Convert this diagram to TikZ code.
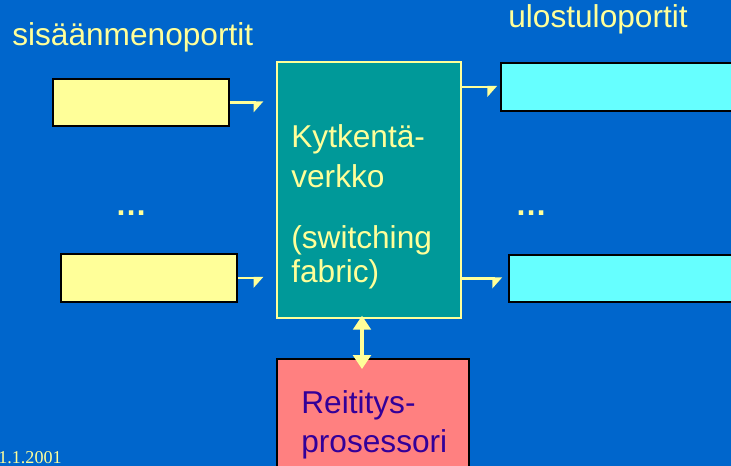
\documentclass[tikz,border=0pt]{standalone}
\usepackage{fontspec}
\setmainfont{Liberation Sans}
\newfontfamily\datefont{Liberation Serif}
\usetikzlibrary{arrows.meta}

\definecolor{slideblue}{RGB}{0,102,204}
\definecolor{paleyellow}{RGB}{255,255,153}
\definecolor{fabricteal}{RGB}{0,153,153}
\definecolor{portcyan}{RGB}{102,255,255}
\definecolor{routerpink}{RGB}{255,128,128}
\definecolor{routertext}{RGB}{51,0,153}

\tikzset{
	inport/.style={draw=black, line width=1pt, fill=paleyellow, inner sep=0pt},
	outport/.style={draw=black, line width=1pt, fill=portcyan, inner sep=0pt},
	label/.style={text=paleyellow, inner sep=0pt, anchor=base west, font=\fontsize{18}{22}\selectfont},
	flow/.style={draw=paleyellow, line width=1.2pt, -{Triangle[harpoon,swap,length=5pt,width=11pt]}}
}

\begin{document}
\begin{tikzpicture}[x=0.02cm, y=-0.02cm]

	\fill[slideblue] (0,0) rectangle (731,466);
	\useasboundingbox (0,0) rectangle (731,466);
	\clip (0,0) rectangle (731,466);

	% headings
	\node[label] (intitle)  at (12, 46)  {sisäänmenoportit};
	\node[label] (outtitle) at (508, 28) {ulostuloportit};

	% ports
	\node[inport, minimum width=3.52cm, minimum height=0.94cm] (in1) at (141, 102.5) {};
	\node[inport, minimum width=3.52cm, minimum height=0.96cm] (in2) at (149, 278) {};
	\node[outport, minimum width=4.88cm, minimum height=0.96cm] (out1) at (623, 87) {};
	\node[outport, minimum width=4.88cm, minimum height=0.94cm] (out2) at (631, 278.5) {};

	\node[label, font=\bfseries\fontsize{18}{22}\selectfont] (indots)  at (115, 215) {…};
	\node[label, font=\bfseries\fontsize{18}{22}\selectfont] (outdots) at (515, 215) {…};

	% switching fabric
	\node[draw=paleyellow, line width=0.8pt, fill=fabricteal, inner sep=0pt,
		minimum width=3.68cm, minimum height=5.12cm] (fab) at (369, 190) {};
	\node[label] (fab1) at (291, 148) {Kytkentä-};
	\node[label] (fab2) at (291, 188) {verkko};
	\node[label] (fab3) at (291, 249) {(switching};
	\node[label] (fab4) at (291, 282) {fabric)};

	% routing processor
	\node[draw=black, line width=1pt, fill=routerpink, inner sep=0pt,
		minimum width=3.84cm, minimum height=2.32cm] (rp) at (373, 417) {};
	\node[label, text=routertext] (rp1) at (301, 413) {Reititys-};
	\node[label, text=routertext] (rp2) at (301, 452) {prosessori};

	\node[text=paleyellow, inner sep=0pt, anchor=base west, font=\datefont\fontsize{10.3}{12}\selectfont] (date) at (-2, 463) {1.1.2001};

	% connections
	\draw[flow, shorten >=0.26cm] (in1.east) -- (in1.east -| fab.west);
	\draw[flow, shorten >=0.26cm] (in2.east) -- (in2.east -| fab.west);
	\draw[flow, shorten >=0.06cm] (out1.west -| fab.east) -- (out1.west);
	\draw[flow, shorten >=0.12cm] (out2.west -| fab.east) -- (out2.west);

	\draw[paleyellow, line width=2pt, {Triangle[length=8pt,width=10pt]}-{Triangle[length=8pt,width=10pt]},
		shorten <=-0.06cm, shorten >=-0.22cm] ([xshift=-0.14cm]fab.south) -- ([xshift=-0.22cm]rp.north);

\end{tikzpicture}
\end{document}
